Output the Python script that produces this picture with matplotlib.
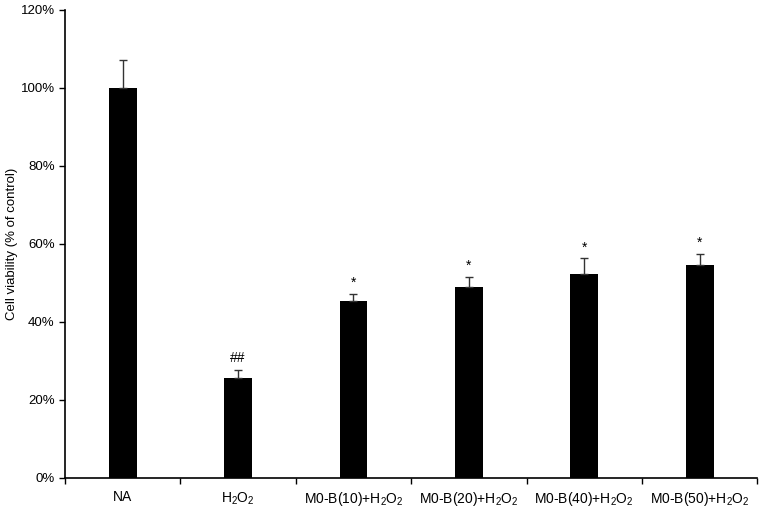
import matplotlib
matplotlib.use("Agg")
import matplotlib.pyplot as plt
import numpy as np

plt.rcParams['font.family'] = ['Liberation Sans', 'DejaVu Sans']
plt.rcParams['mathtext.fontset'] = 'custom'
plt.rcParams['mathtext.rm'] = 'Liberation Sans'
plt.rcParams['mathtext.it'] = 'Liberation Sans'

groups = ['NA', r'H$_2$O$_2$', r'M0-B(10)+H$_2$O$_2$', r'M0-B(20)+H$_2$O$_2$',
          r'M0-B(40)+H$_2$O$_2$', r'M0-B(50)+H$_2$O$_2$']
viability = [100.0, 25.5, 45.4, 48.9, 52.2, 54.5]
sd = [7.0, 2.2, 1.8, 2.5, 4.0, 2.9]
marks = ['', '##', '*', '*', '*', '*']

fig, ax = plt.subplots(figsize=(7.65, 5.13), dpi=100)
fig.subplots_adjust(left=0.085, right=0.99, bottom=0.069, top=0.981)

x = np.arange(len(groups))
ax.bar(x, viability, width=0.24, color='black')
ax.errorbar(x, viability, yerr=[np.zeros(len(sd)), sd], fmt='none',
            ecolor='#333333', elinewidth=1, capsize=3, capthick=1)

for i, m in enumerate(marks):
    if m:
        ax.annotate(m, (x[i], viability[i] + sd[i]), xytext=(0, 3),
                    textcoords='offset points', ha='center', va='bottom',
                    fontsize=10)

ax.set_xlim(-0.5, len(groups) - 0.5)
ax.set_ylim(0, 120)
ax.set_yticks(np.arange(0, 121, 20))
ax.set_yticklabels([f'{v}%' for v in range(0, 121, 20)], fontsize=9.5)

ax.set_xticks(np.arange(-0.5, len(groups), 1.0))
ax.set_xticklabels([])
ax.set_xticks(x, minor=True)
ax.set_xticklabels(groups, minor=True, fontsize=10)
ax.tick_params(axis='x', which='minor', length=0, pad=9)
ax.tick_params(axis='x', which='major', length=4, direction='out', width=1)
ax.tick_params(axis='y', length=4, direction='out', width=1)

ax.set_ylabel('Cell viability (% of control)', fontsize=9.5, labelpad=2)
ax.spines['top'].set_visible(False)
ax.spines['right'].set_visible(False)
for s in ['left', 'bottom']:
    ax.spines[s].set_linewidth(1.2)

plt.savefig('out.png', dpi=100)
